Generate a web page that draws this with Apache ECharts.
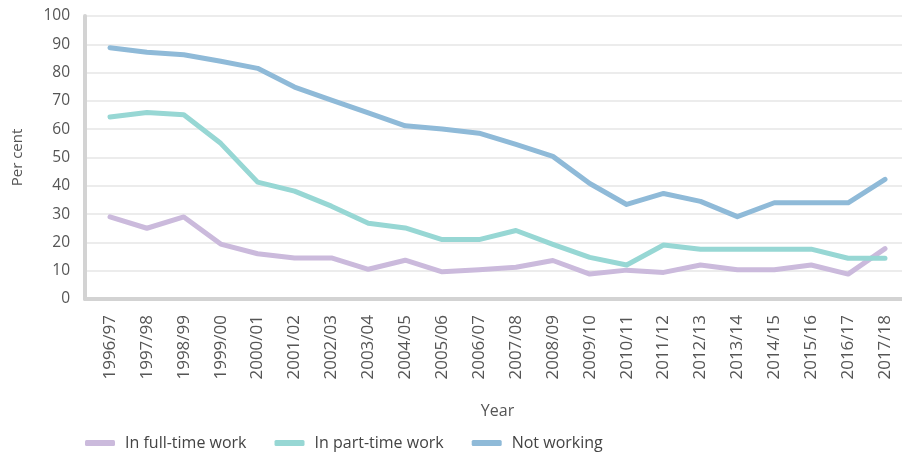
<!DOCTYPE html>
<html>
<head>
<meta charset="utf-8">
<script src="https://cdn.jsdelivr.net/npm/echarts@6/dist/echarts.min.js"></script>
<style>html,body{margin:0;padding:0;background:#fff}#c{width:902px;height:458px}</style>
</head>
<body>
<div id="c"></div>
<script>
const years = ['1996/97','1997/98','1998/99','1999/00','2000/01','2001/02','2002/03','2003/04','2004/05','2005/06','2006/07','2007/08','2008/09','2009/10','2010/11','2011/12','2012/13','2013/14','2014/15','2015/16','2016/17','2017/18'];
const fullTime = [29, 25, 29, 19.4, 16, 14.5, 14.5, 10.5, 13.7, 9.6, 10.3, 11.2, 13.6, 8.8, 10.2, 9.4, 12, 10.3, 10.3, 12, 8.8, 17.8];
const partTime = [64.3, 65.9, 65.1, 55, 41.3, 38.1, 32.8, 26.8, 25.1, 21, 21, 24.2, 19.3, 14.7, 12, 19.1, 17.6, 17.6, 17.6, 17.6, 14.4, 14.4];
const notWorking = [88.8, 87.2, 86.3, 84, 81.5, 74.9, 70.3, 65.8, 61.2, 60.1, 58.6, 54.6, 50.4, 40.8, 33.4, 37.3, 34.5, 29.1, 34, 34, 34, 42.3];
const seriesNames = ['In full-time work', 'In part-time work', 'Not working'];
const colors = ['#cbbadc', '#97d7d4', '#8fbad8'];
const yTicks = {min: 0, max: 100, interval: 10};

const FONT = 'Open Sans';
const chart = echarts.init(document.getElementById('c'), null, {renderer: 'canvas'});
const dataSets = [fullTime, partTime, notWorking];
chart.setOption({
  animation: false,
  textStyle: {fontFamily: FONT},
  grid: [
    {left: 85, right: 0, top: 16, bottom: 159, outerBoundsMode: 'none', containLabel: false},
    {left: 110, right: 17, top: 16, bottom: 159, outerBoundsMode: 'none', containLabel: false}
  ],
  xAxis: [
    {gridIndex: 0, type: 'value', min: 0, max: 1, axisLabel: {show: false}, axisTick: {show: false}, splitLine: {show: false},
     axisLine: {show: true, lineStyle: {color: '#d3d3d3', width: 4}}},
    {gridIndex: 1, type: 'category', data: years, boundaryGap: false,
     axisLine: {show: false}, axisTick: {show: false},
     axisLabel: {rotate: 90, margin: 16, fontSize: 17, color: '#555', fontFamily: FONT, interval: 0},
     name: 'Year', nameLocation: 'middle', nameGap: 104,
     nameTextStyle: {fontSize: 16, color: '#555', fontFamily: FONT}}
  ],
  yAxis: [
    {gridIndex: 0, type: 'value', min: yTicks.min, max: yTicks.max, interval: yTicks.interval,
     axisLine: {show: true, lineStyle: {color: '#d3d3d3', width: 4}}, axisTick: {show: false},
     axisLabel: {fontSize: 15.5, color: '#555', margin: 15, fontFamily: FONT},
     splitLine: {show: true, lineStyle: {color: '#e6e6e6', width: 1.5}},
     name: 'Per cent', nameLocation: 'middle', nameGap: 60, nameRotate: 90,
     nameTextStyle: {fontSize: 15, color: '#555', fontFamily: FONT}},
    {gridIndex: 1, type: 'value', min: yTicks.min, max: yTicks.max, interval: yTicks.interval, show: false, splitLine: {show: false}}
  ],
  legend: {
    bottom: 2, left: 80, itemWidth: 30, itemHeight: 6, itemGap: 28, icon: 'roundRect',
    textStyle: {fontSize: 16, color: '#444', fontFamily: FONT, padding: [0, 0, 0, 5]},
    data: seriesNames
  },
  series: seriesNames.map((n, i) => ({
    name: n, type: 'line', xAxisIndex: 1, yAxisIndex: 1, data: dataSets[i],
    showSymbol: false, symbol: 'none', lineStyle: {width: 5, color: colors[i], cap: 'round', join: 'round'},
    itemStyle: {color: colors[i]}
  }))
});
</script>
</body>
</html>
